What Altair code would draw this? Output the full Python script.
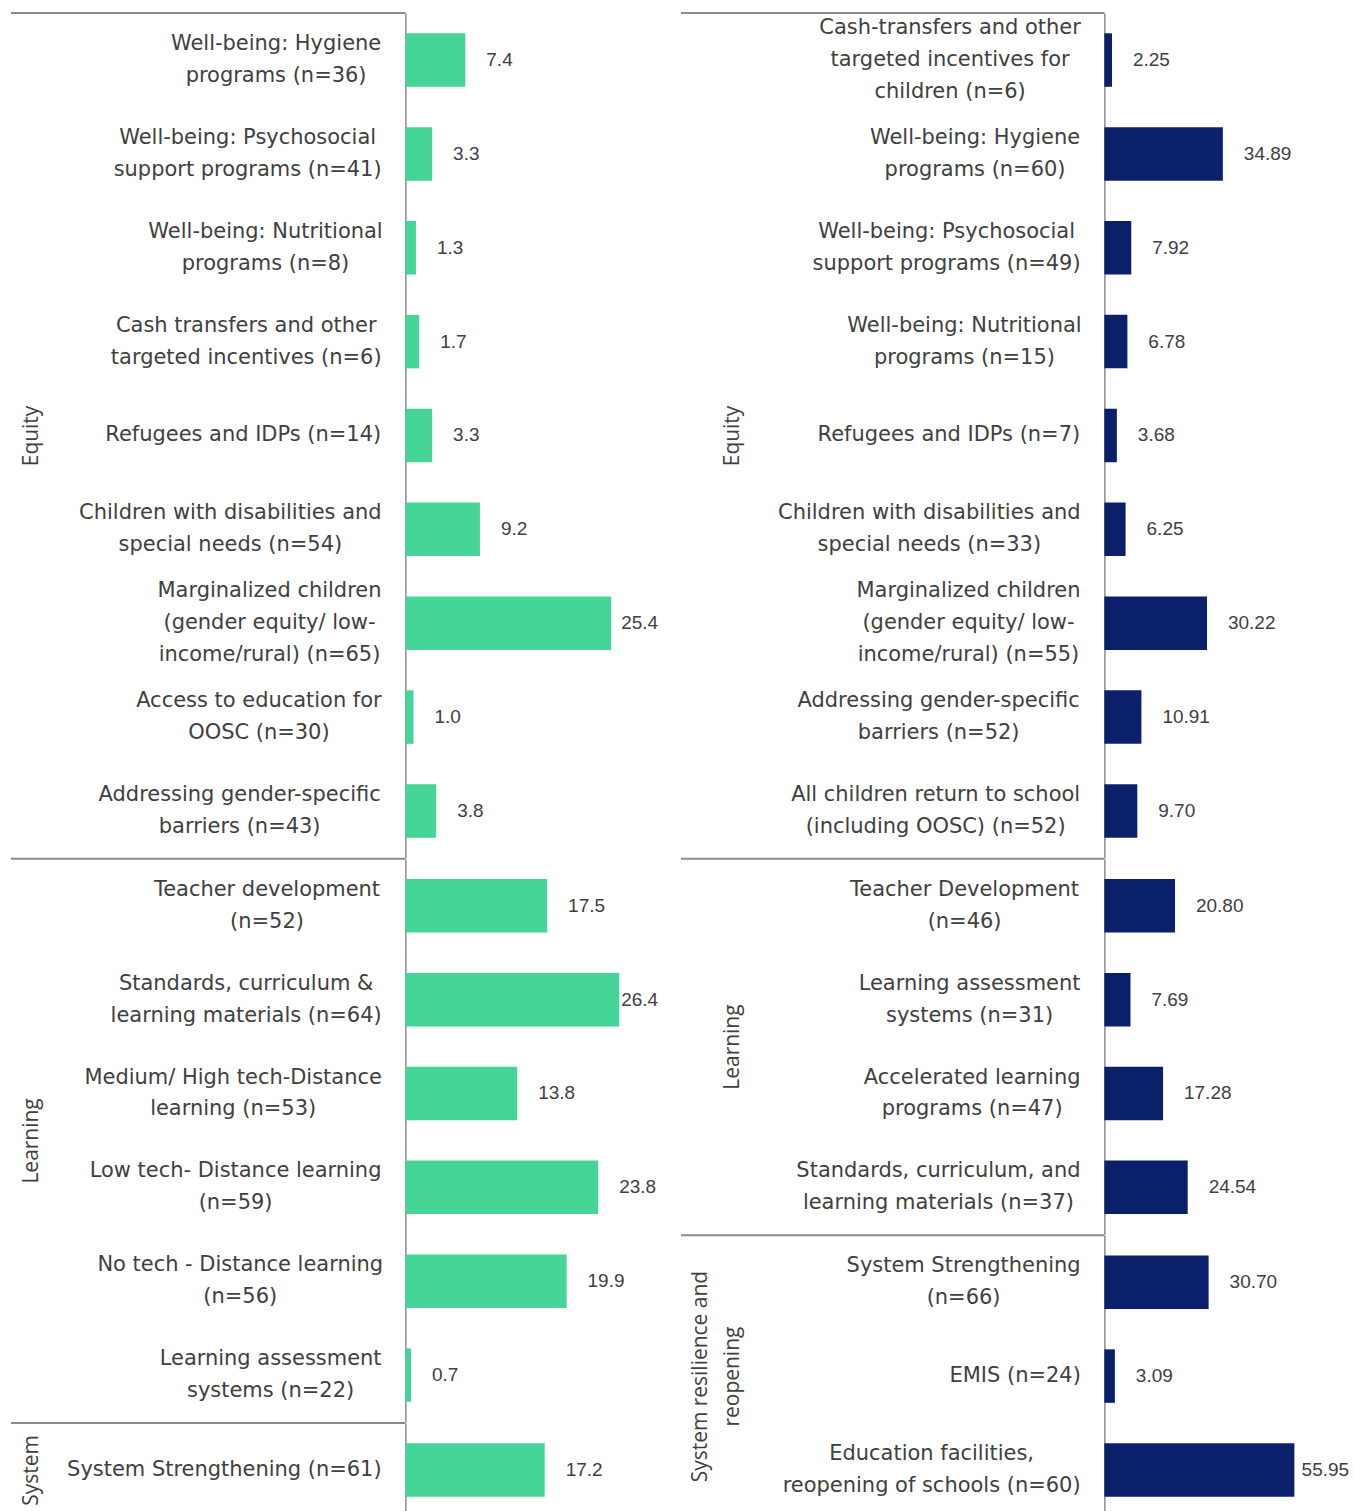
import altair as alt
import pandas as pd

# ---------------- data ----------------
left_equity_labels = [
    "Well-being: Hygiene|programs (n=36)",
    "Well-being: Psychosocial|support programs (n=41)",
    "Well-being: Nutritional|programs (n=8)",
    "Cash transfers and other|targeted incentives (n=6)",
    "Refugees and IDPs (n=14)",
    "Children with disabilities and|special needs (n=54)",
    "Marginalized children|(gender equity/ low-|income/rural) (n=65)",
    "Access to education for|OOSC (n=30)",
    "Addressing gender-specific|barriers (n=43)",
]
left_equity_values = [7.4, 3.3, 1.3, 1.7, 3.3, 9.2, 25.4, 1.0, 3.8]

left_learning_labels = [
    "Teacher development|(n=52)",
    "Standards, curriculum &|learning materials (n=64)",
    "Medium/ High tech-Distance|learning (n=53)",
    "Low tech- Distance learning|(n=59)",
    "No tech - Distance learning|(n=56)",
    "Learning assessment|systems (n=22)",
]
left_learning_values = [17.5, 26.4, 13.8, 23.8, 19.9, 0.7]

left_system_labels = ["System Strengthening (n=61)"]
left_system_values = [17.2]

right_equity_labels = [
    "Cash-transfers and other|targeted incentives for|children (n=6)",
    "Well-being: Hygiene|programs (n=60)",
    "Well-being: Psychosocial|support programs (n=49)",
    "Well-being: Nutritional|programs (n=15)",
    "Refugees and IDPs (n=7)",
    "Children with disabilities and|special needs (n=33)",
    "Marginalized children|(gender equity/ low-|income/rural) (n=55)",
    "Addressing gender-specific|barriers (n=52)",
    "All children return to school|(including OOSC) (n=52)",
]
right_equity_values = [2.25, 34.89, 7.92, 6.78, 3.68, 6.25, 30.22, 10.91, 9.70]

right_learning_labels = [
    "Teacher Development|(n=46)",
    "Learning assessment|systems  (n=31)",
    "Accelerated learning|programs (n=47)",
    "Standards, curriculum, and|learning materials (n=37)",
]
right_learning_values = [20.80, 7.69, 17.28, 24.54]

right_system_labels = [
    "System Strengthening|(n=66)",
    "EMIS (n=24)",
    "Education facilities,|reopening of schools (n=60)",
]
right_system_values = [30.70, 3.09, 55.95]

GREEN = "#45D596"
NAVY = "#0A206B"
TEXT = "#404040"
LINE = "#8C8C8C"
STEP = 94
LINE_H = 32
LABEL_FONT = "DejaVu Sans"
LABEL_SIZE = 21
TITLE_FONT = "Open Sans"
VALUE_FONT = "Liberation Sans"
LABEL_GAP = 24

# approximate DejaVu Sans advance widths (units per em = 2048), used only to
# centre each multi-line category label block the way the original does
_ADV = {
    " ": 651, "!": 821, "(": 799, ")": 799, "&": 1591, ",": 651, "-": 739,
    ".": 651, "/": 690, ":": 690, "=": 1716,
    "A": 1401, "B": 1405, "C": 1430, "D": 1577, "E": 1294, "F": 1178,
    "G": 1587, "H": 1540, "I": 604, "L": 1141, "M": 1767, "O": 1612,
    "P": 1235, "R": 1423, "S": 1300, "T": 1251, "W": 2025,
    "a": 1255, "b": 1300, "c": 1126, "d": 1300, "e": 1260, "f": 721,
    "g": 1300, "h": 1298, "i": 569, "k": 1186, "l": 569, "m": 1995,
    "n": 1298, "o": 1253, "p": 1300, "r": 842, "s": 1067, "t": 803,
    "u": 1298, "v": 1212, "w": 1675, "x": 1212, "y": 1212, "z": 1075,
}


def text_width(s):
    return sum(_ADV.get(c, 1303 if c.isdigit() else 1250) for c in s) / 2048 * LABEL_SIZE


def label_padding(labels):
    conds = []
    for lab in labels:
        w = max(text_width(line) for line in lab.split("|"))
        conds.append({"test": f"datum.value === '{lab}'",
                      "value": round(LABEL_GAP + w / 2, 1)})
    return {"condition": conds, "value": LABEL_GAP}


def group_chart(labels, values, title, color, xmax, clamp, fmt, width,
                label_area, title_x):
    df = pd.DataFrame({"label": labels, "value": values})
    yenc = alt.Y(
        "label:N",
        sort=None,
        scale=alt.Scale(paddingInner=0.43, paddingOuter=0.215),
        axis=alt.Axis(
            title=title,
            titleX=title_x,
            titleAngle=270,
            titleBaseline="alphabetic",
            titleAlign="center",
            titleFont=TITLE_FONT,
            titleFontSize=21,
            titleFontWeight="normal",
            titleColor=TEXT,
            titleLineHeight=32,
            labelExpr="split(datum.label, '|')",
            labelFont=LABEL_FONT,
            labelFontSize=LABEL_SIZE,
            labelColor=TEXT,
            labelLineHeight=LINE_H,
            labelLimit=420,
            labelAlign="center",
            labelPadding=label_padding(labels),
            labelOffset={
                "condition": [
                    {"test": "length(split(datum.value, '|')) == 3",
                     "value": -LINE_H},
                    {"test": "length(split(datum.value, '|')) == 2",
                     "value": -LINE_H / 2},
                ],
                "value": 0,
            },
            ticks=False,
            grid=False,
            domainColor=LINE,
            domainWidth=1.5,
        ),
    )
    xscale = alt.Scale(domain=[0, xmax], nice=False, zero=True)
    base = alt.Chart(df).encode(y=yenc)
    bars = base.mark_bar(color=color).encode(
        x=alt.X("value:Q", scale=xscale, axis=None)
    )
    text = (
        base.transform_calculate(lx=f"min(datum.value, {clamp})")
        .mark_text(align="left", baseline="middle", dx=21, font=VALUE_FONT,
                   fontSize=19, color=TEXT)
        .encode(
            x=alt.X("lx:Q", scale=xscale, axis=None),
            text=alt.Text("value:Q", format=fmt),
        )
    )
    sep = (
        alt.Chart(pd.DataFrame({"k": [0]}))
        .mark_rule(color=LINE, strokeWidth=2)
        .encode(x=alt.value(-label_area), x2=alt.value(0), y=alt.value(0))
    )
    return alt.layer(sep, bars, text).properties(
        width=width, height=alt.Step(STEP)
    )


LW, LMAX, LCLAMP = 275, 33.9, 24.05
RW, RMAX, RCLAMP = 251, 73.8, 51.9

left = alt.vconcat(
    group_chart(left_equity_labels, left_equity_values, "Equity", GREEN,
                LMAX, LCLAMP, ".1f", LW, 395, -368),
    group_chart(left_learning_labels, left_learning_values, "Learning", GREEN,
                LMAX, LCLAMP, ".1f", LW, 395, -368),
    group_chart(left_system_labels, left_system_values, "System", GREEN,
                LMAX, LCLAMP, ".1f", LW, 395, -368),
    spacing=0,
).resolve_scale(y="independent")

right = alt.vconcat(
    group_chart(right_equity_labels, right_equity_values, "Equity", NAVY,
                RMAX, RCLAMP, ".2f", RW, 424, -366),
    group_chart(right_learning_labels, right_learning_values, "Learning", NAVY,
                RMAX, RCLAMP, ".2f", RW, 424, -366),
    group_chart(right_system_labels, right_system_values,
                ["System resilience and", "reopening"], NAVY,
                RMAX, RCLAMP, ".2f", RW, 424, -398),
    spacing=0,
).resolve_scale(y="independent")

chart = (
    alt.hconcat(left, right, spacing=0)
    .properties(padding={"left": 10, "top": 11, "right": 0, "bottom": 0})
    .configure_view(stroke="transparent", strokeWidth=0)
    .configure(background="white",
               style={"cell": {"stroke": "transparent", "strokeWidth": 0}})
)

chart.save("out.html", embed_options={"renderer": "svg", "actions": False})
